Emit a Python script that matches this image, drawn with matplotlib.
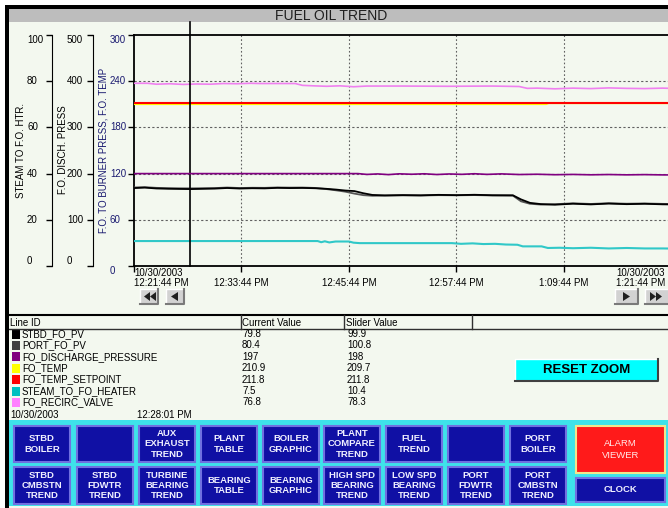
import matplotlib
matplotlib.use("Agg")
import matplotlib.pyplot as plt
from matplotlib import transforms
from matplotlib.patches import Rectangle, Polygon

plt.rcParams['font.family'] = ['Liberation Sans', 'DejaVu Sans']

W, H = 668, 508
BG = '#f3f8ef'

# time axis in minutes after 12:21:44 PM
tick_min = [0, 12, 24, 36, 48, 60]
tick_dates = ['10/30/2003', '', '', '', '', '10/30/2003']
tick_times = ['12:21:44 PM', '12:33:44 PM', '12:45:44 PM', '12:57:44 PM', '1:09:44 PM', '1:21:44 PM']
cursor_min = 6.28

# F.O. to burner press (0-300 scale)
t_pv = [0.0, 1.2, 2.5, 3.8, 5.0, 6.3, 7.6, 9.0, 10.4, 11.8, 13.2, 14.6, 16.0, 17.4,
        18.8, 20.2, 21.4, 22.6, 23.6, 24.6, 25.6, 26.6, 28.0, 30.0, 32.0, 34.0, 36.0,
        38.0, 40.0, 42.3, 43.2, 44.2, 45.4, 47.0, 49.0, 51.0, 53.0, 55.0, 57.0, 59.0, 61.0]
stbd_pv = [101.2, 101.8, 100.7, 100.3, 100.1, 99.9, 100.2, 100.5, 101.3, 100.6, 101.0, 100.8,
           101.5, 101.2, 101.4, 101.0, 100.3, 99.2, 98.0, 97.3, 94.5, 92.3, 91.7, 92.1, 91.8,
           92.4, 92.0, 92.5, 91.9, 91.8, 86.5, 82.0, 80.4, 79.6, 80.9, 80.0, 81.1, 80.3, 80.8,
           80.1, 79.8]
port_pv = [102.0, 102.4, 101.5, 101.1, 100.9, 100.8, 101.0, 101.2, 101.9, 101.3, 101.6, 101.5,
           102.0, 101.8, 101.9, 101.4, 100.0, 98.2, 96.5, 94.0, 92.0, 91.2, 91.4, 91.7, 91.5,
           92.0, 91.8, 92.1, 91.6, 91.4, 84.0, 80.8, 79.8, 80.3, 81.4, 80.6, 81.5, 80.9, 81.2,
           80.7, 80.4]

# F.O. discharge pressure (0-500 scale)
t_disch = [0, 10, 20, 25.0, 26.0, 27.2, 28.4, 29.6, 31.0, 32.4, 33.8, 35.2, 36.6, 38.0,
           39.4, 41.0, 43.0, 45.0, 47.0, 49.0, 51.0, 53.0, 55.0, 57.0, 59.0, 61.0]
disch = [200, 200, 200, 200, 198.2, 199.3, 197.8, 199.5, 198.6, 199.6, 198.0, 199.2, 198.4,
         199.7, 198.3, 199.4, 198.0, 198.6, 197.6, 198.2, 197.4, 198.0, 197.3, 197.8, 197.2, 197.0]

# F.O. temp and setpoint (0-300 scale)
t_temp = [0, 46.0, 46.3, 61]
fo_temp = [210.4, 210.4, 211.6, 211.6]
t_setp = [0, 61]
fo_setp = [211.8, 211.8]

# steam to heater and recirc valve (0-100 scale)
t_steam = [0, 10, 20.5, 20.9, 21.3, 21.8, 22.5, 24.0, 24.5, 25.2, 30, 35.5, 36.5, 37.8, 39.0,
           40.3, 41.5, 42.8, 43.4, 45.5, 46.2, 47.5, 49.0, 51.0, 53.0, 55.0, 57.0, 59.0, 61.0]
steam = [10.8, 10.8, 10.8, 10.3, 10.7, 10.2, 10.6, 10.6, 10.1, 9.9, 9.9, 9.9, 9.6, 9.8, 9.5,
         9.6, 9.3, 9.2, 8.5, 8.5, 7.8, 7.9, 7.7, 7.9, 7.6, 7.8, 7.6, 7.6, 7.5]
t_recirc = [0, 1.5, 2.5, 4.0, 5.5, 7.0, 8.5, 10.0, 11.5, 13.0, 14.0, 16.0, 18.0, 18.8, 20.0,
            21.5, 23.0, 24.5, 26.0, 30.0, 35.0, 40.0, 43.0, 43.9, 45.0, 47.0, 49.0, 51.0,
            53.0, 55.0, 57.0, 59.0, 61.0]
recirc = [79.1, 79.1, 78.7, 78.9, 78.6, 78.8, 78.7, 79.0, 78.9, 79.1, 79.0, 79.0, 79.0, 78.2,
          78.0, 77.8, 78.0, 77.6, 77.9, 77.9, 77.8, 77.9, 77.7, 76.9, 77.0, 76.7, 77.0, 76.8,
          77.1, 76.9, 76.8, 77.0, 76.8]

line_ids = ['STBD_FO_PV', 'PORT_FO_PV', 'FO_DISCHARGE_PRESSURE', 'FO_TEMP',
            'FO_TEMP_SETPOINT', 'STEAM_TO_FO_HEATER', 'FO_RECIRC_VALVE']
swatch_colors = ['#000000', '#404040', '#800080', '#ffff00', '#ff0000', '#00c0c0', '#ff80ff']
current_vals = ['79.8', '80.4', '197', '210.9', '211.8', '7.5', '76.8']
slider_vals = ['99.9', '100.8', '198', '209.7', '211.8', '10.4', '78.3']

row1 = ['STBD\nBOILER', '', 'AUX\nEXHAUST\nTREND', 'PLANT\nTABLE', 'BOILER\nGRAPHIC',
        'PLANT\nCOMPARE\nTREND', 'FUEL\nTREND', '', 'PORT\nBOILER']
row2 = ['STBD\nCMBSTN\nTREND', 'STBD\nFDWTR\nTREND', 'TURBINE\nBEARING\nTREND', 'BEARING\nTABLE',
        'BEARING\nGRAPHIC', 'HIGH SPD\nBEARING\nTREND', 'LOW SPD\nBEARING\nTREND',
        'PORT\nFDWTR\nTREND', 'PORT\nCMBSTN\nTREND']


def frac(x0, y0, x1, y1):
    return [x0 / W, 1 - y1 / H, (x1 - x0) / W, (y1 - y0) / H]


fig = plt.figure(figsize=(W / 100, H / 100), dpi=100, facecolor=BG)
ui = fig.add_axes([0, 0, 1, 1], zorder=0)
ui.set_xlim(0, W)
ui.set_ylim(H, 0)
ui.axis('off')

# window frame
ui.add_patch(Rectangle((0, 0), W, 5, color='white', lw=0))
ui.add_patch(Rectangle((0, 0), 5, H, color='white', lw=0))
ui.add_patch(Rectangle((9, 9), W, 13, color='#bdbdbd', lw=0))
ui.text(331, 15.5, 'FUEL OIL TREND', fontsize=10, ha='center', va='center', color='#202020')
ui.add_patch(Rectangle((5, 5), W, 4, color='black', lw=0, zorder=5))
ui.add_patch(Rectangle((5, 5), 4, H, color='black', lw=0, zorder=5))

# main plot
ax = fig.add_axes(frac(134, 35, 680, 266), zorder=2)
ax.set_facecolor(BG)
ax.set_xlim(0, 60.95)
ax.set_ylim(0, 300)
for s in ['left', 'top', 'bottom']:
    ax.spines[s].set_linewidth(1.3)
ax.spines['right'].set_visible(False)
ax.set_xticks(tick_min)
ax.set_yticks([0, 60, 120, 180, 240, 300])
ax.tick_params(direction='out', length=4, width=1, labelbottom=False, labelleft=False)
for v in [60, 120, 180, 240]:
    ax.axhline(v, color='#606060', lw=0.8, ls=(0, (2, 2)), zorder=1)
for t in tick_min[1:]:
    ax.axvline(t, color='#606060', lw=0.8, ls=(0, (1.5, 2)), zorder=1)

s1 = ax.twinx()
s2 = ax.twinx()
for sa, lim, xpos in [(s1, 100, 52), (s2, 500, 93)]:
    sa.set_ylim(0, lim)
    sa.patch.set_visible(False)
    for s in ['right', 'top', 'bottom']:
        sa.spines[s].set_visible(False)
    sa.spines['left'].set_visible(True)
    sa.spines['left'].set_position(('axes', (xpos - 134) / 546))
    sa.yaxis.tick_left()
    sa.set_yticks([lim * k / 5 for k in range(6)])
    sa.tick_params(axis='y', direction='out', length=4, width=1, labelleft=False, labelright=False)

ax.plot(t_temp, fo_temp, color='#ffff00', lw=1.6, zorder=3)
ax.plot(t_setp, fo_setp, color='#ff0000', lw=1.5, zorder=3)
ax.plot(t_pv, port_pv, color='#555555', lw=1.3, zorder=3)
ax.plot(t_pv, stbd_pv, color='#000000', lw=1.3, zorder=3)
s2.plot(t_disch, disch, color='#800080', lw=1.2)
s1.plot(t_steam, steam, color='#30c8c8', lw=1.5)
s1.plot(t_recirc, recirc, color='#f080f0', lw=1.2)
s1.axvline(cursor_min, ymin=0, ymax=(266 - 22) / 231, color='black', lw=1.2, clip_on=False)

# scale labels
for sa, lim, xl, col, bot_va in [(s1, 100, 27, 'black', 'bottom'), (s2, 500, 67, 'black', 'bottom'),
                                  (ax, 300, 110, '#1a1a70', 'top')]:
    tr = transforms.blended_transform_factory(ui.transData, sa.transData)
    for k in range(6):
        v = lim * k // 5
        va = 'center'
        if k == 5:
            va = 'top'
        elif k == 0:
            va = bot_va
        ui.text(xl, v, str(v), transform=tr, fontsize=7, ha='left', va=va, color=col)
ui.text(21, 150, 'STEAM TO F.O. HTR.', rotation=90, fontsize=7, ha='center', va='center')
ui.text(63.5, 150, 'F.O. DISCH. PRESS', rotation=90, fontsize=7, ha='center', va='center')
ui.text(103.5, 150, 'F.O. TO BURNER PRESS, F.O. TEMP', rotation=90, fontsize=7,
        ha='center', va='center', color='#1a1a70')

# time labels
trx = transforms.blended_transform_factory(ax.transData, ui.transData)
for i, t in enumerate(tick_min):
    ha = 'center'
    if i == 0:
        ha = 'left'
    elif i == len(tick_min) - 1:
        ha = 'right'
    xt = t - (0.7 if i == len(tick_min) - 1 else 0)
    if tick_dates[i]:
        ui.text(xt, 273.5, tick_dates[i], transform=trx, fontsize=7, ha=ha, va='center')
    ui.text(xt, 283.5, tick_times[i], transform=trx, fontsize=7, ha=ha, va='center')


def gray_button(x0, x1, y0, y1):
    ui.add_patch(Rectangle((x0, y0), x1 - x0, y1 - y0, facecolor='#d2d2d2', lw=0))
    ui.plot([x0, x0, x1], [y1, y0, y0], color='white', lw=1)
    ui.plot([x0, x1, x1], [y1, y1, y0], color='#7a7a7a', lw=1.5)


for x0, x1 in [(140, 158), (166, 184), (615, 638), (645, 670)]:
    gray_button(x0, x1, 289, 304)
tri = [[(144, 296.5), (150, 292), (150, 301)], [(150, 296.5), (156, 292), (156, 301)],
       [(171, 296.5), (178, 292), (178, 301)], [(623, 292), (623, 301), (630, 296.5)],
       [(650, 292), (650, 301), (656, 296.5)], [(656, 292), (656, 301), (662, 296.5)]]
for p in tri:
    ui.add_patch(Polygon(p, closed=True, color='#202020', lw=0))

# table
ui.plot([9, W], [315, 315], color='black', lw=1.5)
ui.plot([9, W], [329, 329], color='#303030', lw=1)
for xs in [241, 344, 472]:
    ui.plot([xs, xs], [315, 329], color='#303030', lw=1)
ui.text(10, 322.5, 'Line ID', fontsize=7, va='center')
ui.text(242.5, 322.5, 'Current Value', fontsize=7, va='center')
ui.text(346.5, 322.5, 'Slider Value', fontsize=7, va='center')
for i, name in enumerate(line_ids):
    yc = 334 + i * 11.4
    ui.add_patch(Rectangle((12, yc - 4.5), 8, 9, color=swatch_colors[i], lw=0))
    ui.text(22, yc, name, fontsize=7, va='center')
    ui.text(242, yc, current_vals[i], fontsize=7, va='center')
    ui.text(347, yc, slider_vals[i], fontsize=7, va='center')
ui.text(10, 414.5, '10/30/2003', fontsize=7, va='center')
ui.text(137, 414.5, '12:28:01 PM', fontsize=7, va='center')

# reset zoom button
ui.add_patch(Rectangle((515, 359), 143, 22, facecolor='#00ffff', lw=0))
ui.plot([515, 515, 658], [381, 359, 359], color='white', lw=1)
ui.plot([515, 658, 658], [381, 381, 359], color='#404040', lw=1.5)
ui.text(586.5, 370, 'RESET ZOOM', fontsize=9.5, fontweight='bold', ha='center', va='center')

# navigation panel
ui.add_patch(Rectangle((9, 420), W, 86, facecolor='#3ee2ea', lw=0))
bx = [14, 77, 139, 201, 263, 324, 386, 448, 510]
for row, (y0, y1) in [(row1, (426, 462)), (row2, (467, 504))]:
    for i, lab in enumerate(row):
        ui.add_patch(Rectangle((bx[i], y0), 56, y1 - y0, facecolor='#1010a4',
                               edgecolor='#7070e0', lw=1.5))
        ui.text(bx[i] + 28, (y0 + y1) / 2, lab, fontsize=6.8, fontweight='bold', color='#f0f0ff',
                ha='center', va='center', linespacing=1.2)
ui.add_patch(Rectangle((576, 426), 89, 47, facecolor='#ff1a1a', edgecolor='#f0e68c', lw=1.5))
ui.text(620.5, 449.5, 'ALARM\nVIEWER', fontsize=6.8, color='#ffe8e8', ha='center', va='center',
        linespacing=1.3)
ui.add_patch(Rectangle((576, 478), 89, 24, facecolor='#1010a4', edgecolor='#7070e0', lw=1.5))
ui.text(620.5, 490, 'CLOCK', fontsize=6.8, fontweight='bold', color='#f0f0ff',
        ha='center', va='center')

fig.savefig('out.png', dpi=100, facecolor=BG)
